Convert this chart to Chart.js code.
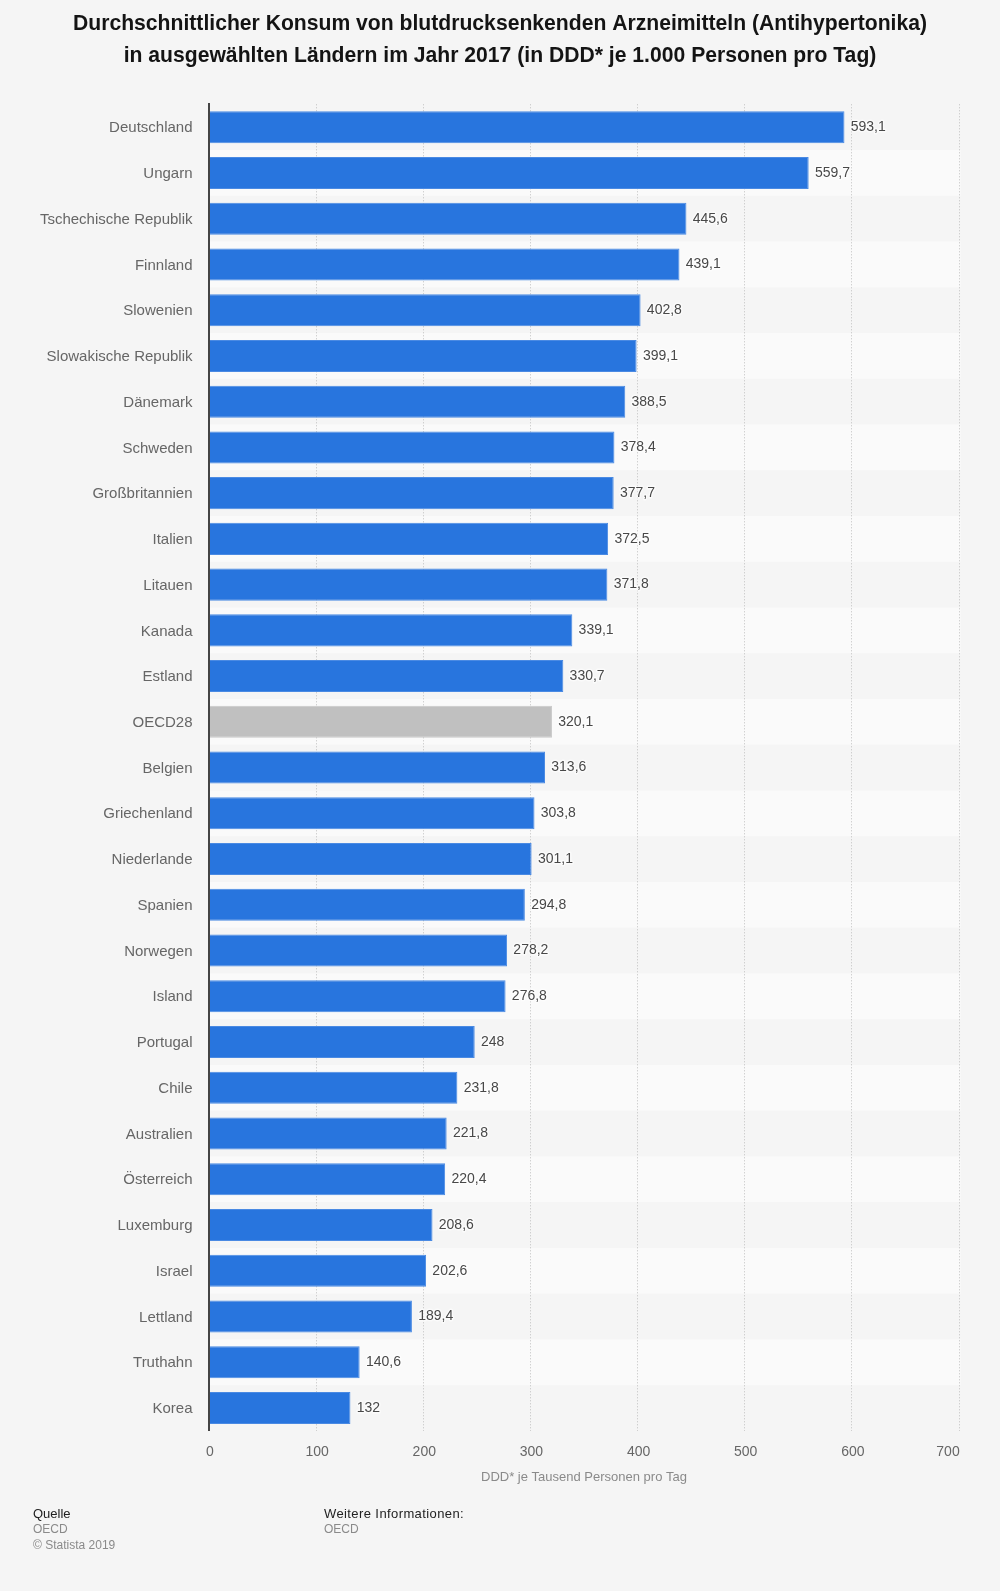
<!DOCTYPE html>
<html lang="de"><head><meta charset="utf-8">
<title>Antihypertonika</title>
<script src="https://cdn.jsdelivr.net/npm/chart.js@4/dist/chart.umd.min.js"></script>
<style>
html,body{margin:0;padding:0;background:#f5f5f5;width:1000px;height:1591px;overflow:hidden}
#wrap{position:relative;width:1000px;height:1591px}
canvas{position:absolute;left:0;top:0}
.f{position:absolute;font:12px/16px "Liberation Sans",Arial,sans-serif;color:#8a8a8a;white-space:nowrap}
.f b{font-weight:normal;font-size:13px;line-height:15px;color:#222;display:block}
</style></head><body>
<div id="wrap"><canvas id="c" width="1000" height="1591"></canvas>
<div class="f" style="left:33px;top:1506px"><b>Quelle</b>OECD<br>© Statista 2019</div>
<div class="f" style="left:324px;top:1506px"><b style="letter-spacing:.4px">Weitere Informationen:</b>OECD</div>
</div>
<script>
const titleLines = ["Durchschnittlicher Konsum von blutdrucksenkenden Arzneimitteln (Antihypertonika)",
  "in ausgewählten Ländern im Jahr 2017 (in DDD* je 1.000 Personen pro Tag)"];
const categories = ["Deutschland","Ungarn","Tschechische Republik","Finnland","Slowenien","Slowakische Republik","Dänemark","Schweden","Großbritannien","Italien","Litauen","Kanada","Estland","OECD28","Belgien","Griechenland","Niederlande","Spanien","Norwegen","Island","Portugal","Chile","Australien","Österreich","Luxemburg","Israel","Lettland","Truthahn","Korea"];
const values = [593.1,559.7,445.6,439.1,402.8,399.1,388.5,378.4,377.7,372.5,371.8,339.1,330.7,320.1,313.6,303.8,301.1,294.8,278.2,276.8,248,231.8,221.8,220.4,208.6,202.6,189.4,140.6,132];
const xTicks = [0,100,200,300,400,500,600,700];
const xTitle = "DDD* je Tausend Personen pro Tag";
const FONT = '"Liberation Sans",Arial,sans-serif';
const fmt = v => String(v).replace('.', ',');

const bands = { id:'bands', beforeDraw(ch){
  const y = ch.scales.y, a = ch.chartArea, c = ch.ctx, step = y.getPixelForValue(1) - y.getPixelForValue(0);
  c.save(); c.fillStyle = '#fafafa';
  categories.forEach((_, i) => { if (i % 2) c.fillRect(a.left, y.getPixelForValue(i) - step/2, a.right + 1.7 - a.left, step); });
  c.restore();
}};
const layoutFix = { id:'layoutFix', afterLayout(ch){
  ch.titleBlock.right = ch.width;
  const s = ch.scales.x; s._labelItems = null;
  const items = s.getLabelItems();
  items.forEach((it, i) => { it.options.translation[0] += (i === items.length - 1) ? -11 : 1; });
  const sy = ch.scales.y; sy._labelItems = null;
  sy.getLabelItems().forEach(it => { it.options.translation[1] += 1; });
}};
const valueLabels = { id:'valueLabels', afterDatasetsDraw(ch){
  const c = ch.ctx, m = ch.getDatasetMeta(0);
  c.save(); c.font = '14px ' + FONT; c.textBaseline = 'middle'; c.textAlign = 'left'; c.lineJoin = 'round';
  m.data.forEach((el, i) => {
    const t = fmt(values[i]), x = el.x + 6.3, y = el.y;
    c.strokeStyle = 'rgba(255,255,255,.55)'; c.lineWidth = 3; c.strokeText(t, x, y);
    c.fillStyle = '#484848'; c.fillText(t, x, y);
  });
  c.restore();
}};

new Chart(document.getElementById('c'), {
  type:'bar',
  data:{ labels:categories, datasets:[{ data:values,
    backgroundColor: ctx => categories[ctx.dataIndex] === 'OECD28' ? '#c0c0c0' : '#2875de',
    borderColor: ctx => categories[ctx.dataIndex] === 'OECD28' ? '#c8c8c8' : '#4a8ae3',
    borderWidth:1, barPercentage:0.7, categoryPercentage:1 }]},
  plugins:[bands, layoutFix, valueLabels],
  options:{
    indexAxis:'y', responsive:false, animation:false, devicePixelRatio:1,
    layout:{ padding:{ left:0, right:41, top:0, bottom:105.5 } },
    plugins:{
      legend:{display:false}, tooltip:{enabled:false},
      title:{ display:true, text:titleLines, color:'#141414',
        font:{ family:FONT, size:21.15, weight:'bold', lineHeight:1.513 },
        padding:{ top:8, bottom:32.3 } }
    },
    scales:{
      x:{ type:'linear', min:0, max:700, position:'bottom',
        afterBuildTicks(s){ s.ticks = xTicks.map(v => ({value:v})); },
        afterFit(s){ s.height = 54.6; },
        grid:{ color:'#bfbfbf', lineWidth:1, drawTicks:false },
        border:{ display:false, dash:[1,2] },
        ticks:{ color:'#666', font:{family:FONT,size:14}, padding:13, maxRotation:0, autoSkip:false },
        title:{ display:true, text:xTitle, color:'#8a8a8a', font:{family:FONT,size:13}, padding:0 }
      },
      y:{ type:'category',
        afterFit(s){ s.width = 209; },
        grid:{ display:false, drawTicks:false },
        border:{ color:'#444', width:2, z:1 },
        ticks:{ color:'#666', font:{family:FONT,size:15}, padding:16.5, autoSkip:false }
      }
    }
  }
});
</script></body></html>
